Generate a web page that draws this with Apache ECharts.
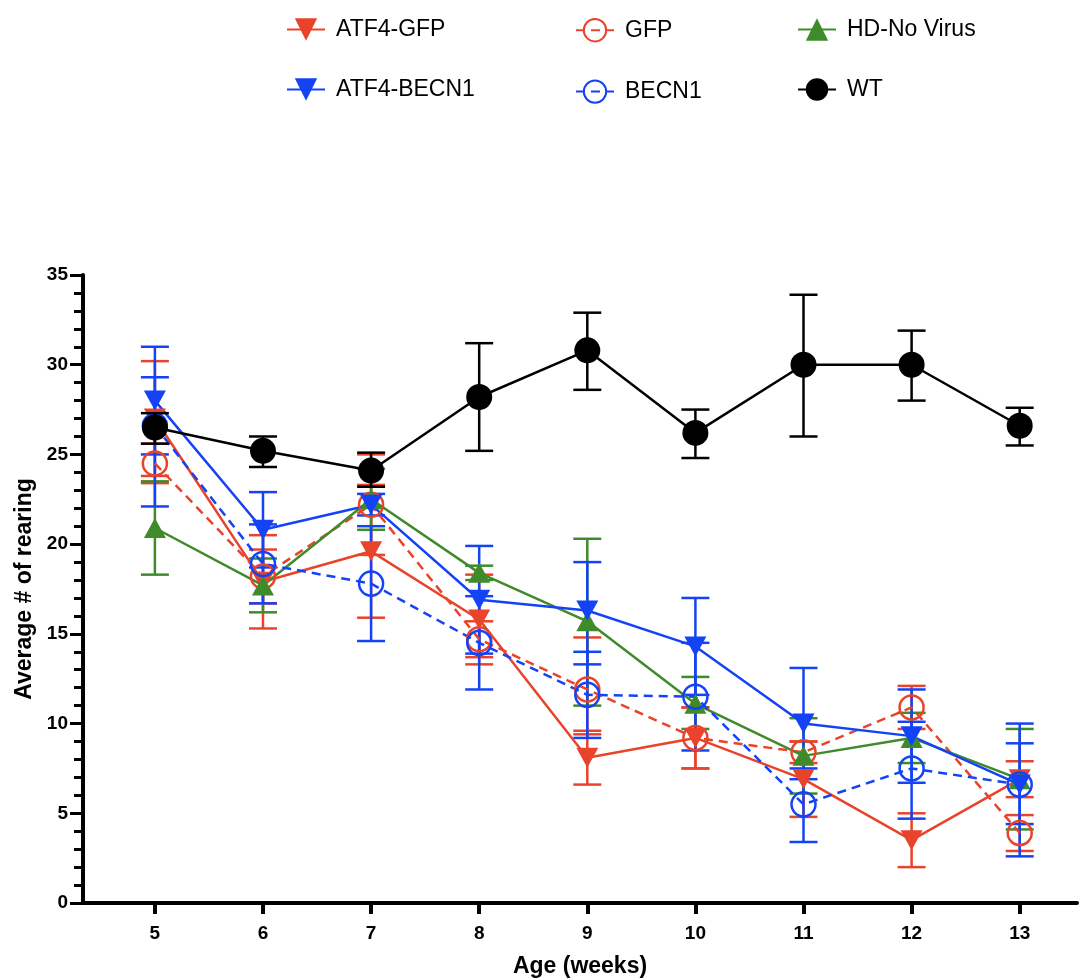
<!DOCTYPE html>
<html>
<head>
<meta charset="utf-8">
<script src="https://cdn.jsdelivr.net/npm/echarts@6/dist/echarts.min.js"></script>
<style>
  html, body { margin: 0; padding: 0; background: #fff; }
  #chart { width: 1079px; height: 978px; }
</style>
</head>
<body>
<div id="chart"></div>
<script>
// weeks on the x axis
var weeks = [5, 6, 7, 8, 9, 10, 11, 12, 13];

// mean rearing counts + error bar ends
var atf4Gfp = [27.0, 17.9, 19.6, 15.8, 8.1, 9.2, 6.9, 3.5, 6.9];
var atf4GfpLow = [23.8, 15.3, 15.9, 13.3, 6.6, 7.5, 4.8, 2.0, 5.9];
var atf4GfpHigh = [30.2, 20.5, 23.3, 18.3, 9.6, 10.9, 9.0, 5.0, 7.9];

var gfp = [24.5, 18.2, 22.2, 14.7, 11.9, 9.2, 8.4, 10.9, 3.9];
var gfpLow = [23.4, 16.7, 19.4, 13.7, 9.4, 7.5, 7.8, 9.7, 2.9];
var gfpHigh = [25.6, 19.7, 25.0, 15.7, 14.8, 10.9, 9.0, 12.1, 4.9];

var hdNoVirus = [20.9, 17.7, 22.5, 18.4, 15.7, 11.1, 8.2, 9.2, 6.9];
var hdLow = [18.3, 16.2, 20.8, 18.0, 11.0, 9.7, 6.1, 7.8, 4.1];
var hdHigh = [23.5, 19.2, 24.2, 18.8, 20.3, 12.6, 10.3, 10.6, 9.7];

var atf4Becn1 = [28.0, 20.8, 22.2, 16.9, 16.3, 14.3, 10.0, 9.3, 6.6];
var atf4Becn1Low = [25.0, 18.7, 21.6, 13.9, 13.3, 11.6, 6.9, 6.7, 2.6];
var atf4Becn1High = [31.0, 22.9, 22.8, 19.9, 19.0, 17.0, 13.1, 11.9, 10.0];

var becn1 = [26.6, 18.9, 17.8, 14.5, 11.6, 11.5, 5.5, 7.5, 6.6];
var becn1Low = [22.1, 16.7, 14.6, 11.9, 9.2, 8.5, 3.4, 4.7, 4.4];
var becn1High = [29.3, 21.1, 21.0, 17.1, 14.0, 14.5, 7.5, 10.1, 8.9];

var wt = [26.5, 25.2, 24.1, 28.2, 30.8, 26.2, 30.0, 30.0, 26.6];
var wtLow = [25.6, 24.3, 23.2, 25.2, 28.6, 24.8, 26.0, 28.0, 25.5];
var wtHigh = [27.3, 26.0, 25.1, 31.2, 32.9, 27.5, 33.9, 31.9, 27.6];

var yTicks = [0, 5, 10, 15, 20, 25, 30, 35];

var RED = '#e9442b';
var BLUE = '#1443f5';
var GREEN = '#3f8b2b';
var BLACK = '#000';
var FONT = '"Liberation Sans", Arial, Helvetica, sans-serif';

function pairs(vals) {
    return weeks.map(function (w, i) { return [w, vals[i]]; });
}

// line + markers
function lineSeries(name, vals, color, symbol, opts) {
    var open = opts.open;
    return {
        name: name,
        type: 'line',
        data: pairs(vals),
        symbol: symbol,
        symbolSize: opts.size,
        symbolRotate: opts.rotate || 0,
        showAllSymbol: true,
        lineStyle: { color: color, width: 2.5, type: opts.dashed ? [9, 6] : 'solid' },
        itemStyle: open
            ? { color: 'rgba(255,255,255,0)', borderColor: color, borderWidth: 2.5 }
            : { color: color, borderWidth: 0 },
        z: opts.z,
        animation: false
    };
}

// error bars drawn with a custom series
function errSeries(name, low, high, color, z) {
    return {
        name: name + ' err',
        type: 'custom',
        data: weeks.map(function (w, i) { return [w, low[i], high[i]]; }),
        encode: { x: 0, y: [1, 2] },
        renderItem: function (params, api) {
            var x = api.value(0);
            var lo = api.coord([x, api.value(1)]);
            var hi = api.coord([x, api.value(2)]);
            var hw = 14;
            var style = { stroke: color, lineWidth: 2.5, fill: null };
            return {
                type: 'group',
                children: [
                    { type: 'line', shape: { x1: hi[0], y1: hi[1], x2: lo[0], y2: lo[1] }, style: style },
                    { type: 'line', shape: { x1: hi[0] - hw, y1: hi[1], x2: hi[0] + hw, y2: hi[1] }, style: style },
                    { type: 'line', shape: { x1: lo[0] - hw, y1: lo[1], x2: lo[0] + hw, y2: lo[1] }, style: style }
                ]
            };
        },
        z: z,
        silent: true,
        animation: false
    };
}

var legendBase = {
    orient: 'vertical',
    top: 13,
    itemWidth: 38,
    itemHeight: 28,
    itemGap: 37,
    textStyle: { fontFamily: FONT, fontSize: 23, color: '#000', padding: [0, 0, 0, 6] }
};

var chart = echarts.init(document.getElementById('chart'));
chart.setOption({
    backgroundColor: '#fff',
    animation: false,
    legend: [
        Object.assign({ left: 281, data: ['ATF4-GFP', 'ATF4-BECN1'] }, legendBase),
        Object.assign({ left: 570, data: ['GFP', 'BECN1'] }, legendBase),
        Object.assign({ left: 792, data: ['HD-No Virus', 'WT'] }, legendBase)
    ],
    grid: { left: 83, top: 275, right: 2, bottom: 75, outerBoundsMode: 'none', containLabel: false },
    xAxis: {
        type: 'value',
        min: 4.335,
        max: 13.53,
        name: 'Age (weeks)',
        nameLocation: 'middle',
        nameGap: 52,
        nameTextStyle: { fontFamily: FONT, fontSize: 23, fontWeight: 'bold', color: '#000' },
        splitLine: { show: false },
        axisLine: { lineStyle: { color: '#000', width: 4 } },
        axisTick: { customValues: weeks, length: 11, lineStyle: { color: '#000', width: 4 } },
        axisLabel: { customValues: weeks, margin: 21, fontFamily: FONT, fontSize: 19, fontWeight: 'bold', color: '#000' }
    },
    yAxis: {
        type: 'value',
        min: yTicks[0],
        max: yTicks[yTicks.length - 1],
        interval: 5,
        name: 'Average # of rearing',
        nameLocation: 'middle',
        nameGap: 45,
        nameTextStyle: { fontFamily: FONT, fontSize: 23, fontWeight: 'bold', color: '#000' },
        splitLine: { show: false },
        axisLine: { lineStyle: { color: '#000', width: 4 } },
        axisTick: { length: 13, lineStyle: { color: '#000', width: 3 } },
        minorTick: { show: true, splitNumber: 5, length: 9, lineStyle: { color: '#000', width: 3 } },
        axisLabel: { margin: 15, fontFamily: FONT, fontSize: 19, fontWeight: 'bold', color: '#000' }
    },
    series: [
        lineSeries('ATF4-GFP', atf4Gfp, RED, 'triangle', { size: [22, 20], rotate: 180, z: 3 }),
        lineSeries('GFP', gfp, RED, 'circle', { size: 24, open: true, dashed: true, z: 3 }),
        lineSeries('HD-No Virus', hdNoVirus, GREEN, 'triangle', { size: [22, 20], z: 3 }),
        lineSeries('ATF4-BECN1', atf4Becn1, BLUE, 'triangle', { size: [22, 20], rotate: 180, z: 3 }),
        lineSeries('BECN1', becn1, BLUE, 'circle', { size: 24, open: true, dashed: true, z: 3 }),
        lineSeries('WT', wt, BLACK, 'circle', { size: 26, z: 4 }),
        errSeries('ATF4-GFP', atf4GfpLow, atf4GfpHigh, RED, 2),
        errSeries('GFP', gfpLow, gfpHigh, RED, 2),
        errSeries('HD-No Virus', hdLow, hdHigh, GREEN, 2),
        errSeries('ATF4-BECN1', atf4Becn1Low, atf4Becn1High, BLUE, 2),
        errSeries('BECN1', becn1Low, becn1High, BLUE, 2),
        errSeries('WT', wtLow, wtHigh, BLACK, 4)
    ]
});
</script>
</body>
</html>
